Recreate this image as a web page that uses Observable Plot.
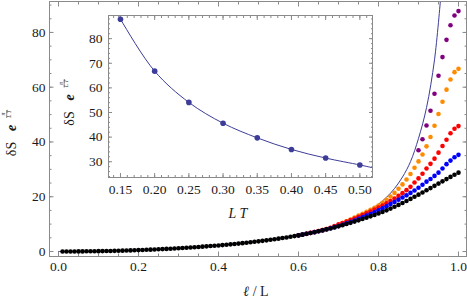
<!DOCTYPE html>
<html><head><meta charset="utf-8">
<script src="https://cdn.jsdelivr.net/npm/d3@7"></script>
<script src="https://cdn.jsdelivr.net/npm/@observablehq/plot@0.6"></script>
<style>
html,body{margin:0;padding:0;background:#fff;}
#wrap{position:relative;width:467px;height:300px;overflow:hidden;}
#wrap svg{position:absolute;left:0;top:0;}
#wrap svg text{font-family:'Liberation Serif','DejaVu Serif',serif;}
</style></head><body><div id="wrap"></div>
<script>
// ---- main chart data (ℓ/L grid and δS e^{π/LT} values)
const ellAll = [0.01,0.02,0.03,0.04,0.05,0.06,0.07,0.08,0.09,0.10,
0.11,0.12,0.13,0.14,0.15,0.16,0.17,0.18,0.19,0.20,
0.21,0.22,0.23,0.24,0.25,0.26,0.27,0.28,0.29,0.30,
0.31,0.32,0.33,0.34,0.35,0.36,0.37,0.38,0.39,0.40,
0.41,0.42,0.43,0.44,0.45,0.46,0.47,0.48,0.49,0.50,
0.51,0.52,0.53,0.54,0.55,0.56,0.57,0.58,0.59,0.60,
0.61,0.62,0.63,0.64,0.65,0.66,0.67,0.68,0.69,0.70,
0.71,0.72,0.73,0.74,0.75,0.76,0.77,0.78,0.79,0.80,
0.81,0.82,0.83,0.84,0.85,0.86,0.87,0.88,0.89,0.90,
0.91,0.92,0.93,0.94,0.95,0.96,0.97,0.98,0.99,1.00];
const blackVals = [0.00,0.01,0.01,0.02,0.03,0.04,0.06,0.08,0.10,0.12,
0.14,0.17,0.20,0.23,0.27,0.31,0.35,0.40,0.45,0.50,
0.55,0.61,0.67,0.73,0.80,0.87,0.94,1.02,1.10,1.18,
1.27,1.36,1.45,1.55,1.65,1.76,1.87,1.98,2.09,2.21,
2.34,2.47,2.60,2.74,2.89,3.04,3.20,3.36,3.53,3.70,
3.88,4.07,4.27,4.47,4.68,4.90,5.13,5.37,5.62,5.88,
6.15,6.44,6.74,7.05,7.37,7.71,8.06,8.42,8.80,9.19,
9.60,10.02,10.46,10.91,11.37,11.85,12.34,12.84,13.35,13.87,
14.43,15.03,15.66,16.32,17.01,17.72,18.45,19.20,19.97,20.75,
21.54,22.34,23.15,23.97,24.79,25.61,26.43,27.24,28.03,28.8];

const ellHigh = [0.60,0.61,0.62,0.63,0.64,0.65,0.66,0.67,0.68,0.69,
0.70,0.71,0.72,0.73,0.74,0.75,0.76,0.77,0.78,0.79,
0.80,0.81,0.82,0.83,0.84,0.85,0.86,0.87,0.88,0.89,
0.90,0.91,0.92,0.93,0.94,0.95,0.96,0.97,0.98,0.99,1.00];
const blueVals = [5.9,6.17,6.46,6.76,7.07,7.4,7.75,8.1,8.48,8.88,
9.3,9.75,10.25,10.75,11.3,11.9,12.5,13.1,13.7,14.35,
15.05,15.75,16.5,17.3,18.1,18.9,19.7,20.5,21.4,22.3,
23.3,24.4,25.5,26.5,27.6,28.8,30.3,31.9,33.2,34.4,35.3];
const redVals = [5.92,6.2,6.5,6.8,7.12,7.46,7.82,8.2,8.65,9.3,
9.95,10.4,10.9,11.45,12.05,12.65,13.3,13.95,14.6,15.3,
16.05,16.8,17.6,18.45,19.35,20.3,21.3,22.4,23.6,25.2,
26.7,28.4,30.3,32.0,33.9,36.1,38.5,40.8,43.2,44.8,45.8];
const orangeVals = [5.9,6.18,6.48,6.78,7.1,7.44,7.8,8.18,8.6,9.1,
9.7,10.35,11.0,11.7,12.4,13.1,13.8,14.5,15.2,16.0,
16.8,17.8,18.9,20.1,21.4,22.9,24.5,26.3,28.3,30.6,
32.9,35.4,38.4,41.8,45.9,50.2,54.7,59.1,62.8,65.5,66.7];
const ellPurple = [0.90,0.91,0.92,0.93,0.94,0.95,0.96,0.97,0.98,0.99,1.00];
const purpleVals = [37.0,41.0,46.0,51.4,57.6,64.2,71.0,77.3,82.6,86.2,87.8];

// analytic curve
const curveEll = [0,0.1,0.2,0.3,0.4,0.5,0.6,0.65,0.7,0.75,0.78,0.8,0.82,0.84,0.86,0.88,0.9,0.92,0.94,0.955];
const curveVals = [0,0.12,0.5,1.2,2.25,3.8,6.0,7.6,9.8,13.1,15.4,17.3,19.8,23.0,27.2,32.8,41.3,52.5,70,92];

// main ticks
const xMajor = [0,0.2,0.4,0.6,0.8,1.0];
const xMinor = [0,0.05,0.1,0.15,0.2,0.25,0.3,0.35,0.4,0.45,0.5,0.55,0.6,0.65,0.7,0.75,0.8,0.85,0.9,0.95,1.0];
const yMajor = [0,20,40,60,80];
const yMinor = [0,5,10,15,20,25,30,35,40,45,50,55,60,65,70,75,80,85,90];

// ---- inset data
const insetLT = [0.15,0.20,0.25,0.30,0.35,0.40,0.45,0.50];
const insetVals = [87.9,66.8,54.1,45.65,39.7,35.0,31.5,28.7];
const fitLT = [0.143,0.15,0.20,0.25,0.30,0.35,0.40,0.45,0.50,0.518];
const fitVals = [91.4,87.9,66.8,54.1,45.65,39.7,35.0,31.5,28.7,27.6];
const ixMajor = [0.15,0.20,0.25,0.30,0.35,0.40,0.45,0.50];
const ixMinor = [0.14,0.15,0.16,0.17,0.18,0.19,0.20,0.21,0.22,0.23,0.24,0.25,0.26,0.27,0.28,0.29,0.30,0.31,0.32,0.33,0.34,0.35,0.36,0.37,0.38,0.39,0.40,0.41,0.42,0.43,0.44,0.45,0.46,0.47,0.48,0.49,0.50,0.51];
const iyMajor = [30,40,50,60,70,80];
const iyMinor = [24,26,28,30,32,34,36,38,40,42,44,46,48,50,52,54,56,58,60,62,64,66,68,70,72,74,76,78,80,82,84,86,88];

const font = "'Liberation Serif','DejaVu Serif',serif";
const frameC = "#8a8a8a";
const textC = "#1a1a1a";
const lineC = "#3d3d99";

const toRows = (xs, ys) => xs.map((x, i) => ({x, y: ys[i]}));
const blank = () => "";

function frameTicks(xMaj, xMin, yMaj, yMin, big, small) {
  const out = [];
  for (const [t, s] of [[xMin, small], [xMaj, big]]) {
    out.push(Plot.axisX({anchor: "bottom", ticks: t, tickSize: s, dy: -s, tickFormat: blank, stroke: frameC, label: null}));
    out.push(Plot.axisX({anchor: "top", ticks: t, tickSize: s, dy: s, tickFormat: blank, stroke: frameC, label: null}));
  }
  for (const [t, s] of [[yMin, small], [yMaj, big]]) {
    out.push(Plot.axisY({anchor: "left", ticks: t, tickSize: s, dx: s, tickFormat: blank, stroke: frameC, label: null}));
    out.push(Plot.axisY({anchor: "right", ticks: t, tickSize: s, dx: -s, tickFormat: blank, stroke: frameC, label: null}));
  }
  return out;
}

const main = Plot.plot({
  width: 467, height: 300,
  marginLeft: 49, marginRight: 1, marginTop: 1, marginBottom: 44,
  style: {fontFamily: font, fontSize: "13.5px", background: "transparent", color: textC},
  x: {domain: [-0.0225, 1.02]},
  y: {domain: [-1.83, 91.3]},
  marks: [
    ...frameTicks(xMajor, xMinor, yMajor, yMinor, 4.5, 2.5),
    Plot.axisX({anchor: "bottom", ticks: xMajor, tickSize: 0, tickPadding: 5, tickFormat: d3.format(".1f"), label: null}),
    Plot.axisY({anchor: "left", ticks: yMajor, tickSize: 0, tickPadding: 4, tickFormat: d3.format("d"), label: null}),
    Plot.line(toRows(curveEll, curveVals), {x: "x", y: "y", curve: "catmull-rom", stroke: lineC, strokeWidth: 1, clip: true}),
    Plot.dot(toRows(ellPurple, purpleVals), {x: "x", y: "y", r: 2.3, fill: "#800080", clip: true}),
    Plot.dot(toRows(ellHigh, orangeVals), {x: "x", y: "y", r: 2.3, fill: "#ff8c00"}),
    Plot.dot(toRows(ellHigh, redVals), {x: "x", y: "y", r: 2.3, fill: "#ff0000"}),
    Plot.dot(toRows(ellHigh, blueVals), {x: "x", y: "y", r: 2.3, fill: "#0000ff"}),
    Plot.dot(toRows(ellAll, blackVals), {x: "x", y: "y", r: 2.3, fill: "#000000"}),
    Plot.frame({stroke: frameC})
  ]
});

const inset = Plot.plot({
  width: 467, height: 300,
  marginLeft: 108, marginRight: 95, marginTop: 15, marginBottom: 123,
  style: {fontFamily: font, fontSize: "13.5px", background: "transparent", color: textC},
  x: {domain: [0.1325, 0.5185]},
  y: {domain: [23.6, 89.4]},
  marks: [
    ...frameTicks(ixMajor, ixMinor, iyMajor, iyMinor, 4, 2),
    Plot.axisX({anchor: "bottom", ticks: ixMajor, tickSize: 0, tickPadding: 7, tickFormat: d3.format(".2f"), label: null}),
    Plot.axisY({anchor: "left", ticks: iyMajor, tickSize: 0, tickPadding: 6, tickFormat: d3.format("d"), label: null}),
    Plot.line(toRows(fitLT, fitVals), {x: "x", y: "y", curve: "catmull-rom", stroke: lineC, strokeWidth: 1, clip: true}),
    Plot.dot(toRows(insetLT, insetVals), {x: "x", y: "y", r: 2.8, fill: lineC}),
    Plot.frame({stroke: frameC})
  ]
});

const wrap = document.getElementById("wrap");
wrap.appendChild(main);
wrap.appendChild(inset);

// y-axis labels: δS e^{π/(LT)}
function yLabel(svg, tx, ty) {
  const g = d3.select(svg).append("g")
    .attr("transform", `translate(${tx},${ty}) rotate(-90)`)
    .attr("font-family", font).attr("fill", textC);
  g.append("text").attr("x", 0).attr("y", 0).attr("font-size", 14).text("δS");
  g.append("text").attr("x", 21).attr("y", 0).attr("font-size", 14)
    .attr("font-style", "italic").attr("font-weight", "bold").text("e");
  g.append("text").attr("x", 35).attr("y", -11).attr("font-size", 6)
    .attr("font-style", "italic").attr("text-anchor", "middle").text("π");
  g.append("line").attr("x1", 31).attr("x2", 39).attr("y1", -9.3).attr("y2", -9.3)
    .attr("stroke", textC).attr("stroke-width", 0.5);
  g.append("text").attr("x", 35).attr("y", -5.5).attr("font-size", 5.5)
    .attr("font-style", "italic").attr("text-anchor", "middle").text("L T");
}
yLabel(main, 16, 149);
yLabel(inset, 73.5, 118.5);

// x-axis labels
d3.select(main).append("text").attr("x", 256).attr("y", 296).attr("text-anchor", "middle")
  .attr("font-family", font).attr("font-size", 14).attr("fill", textC)
  .call(t => { t.append("tspan").attr("font-style", "italic").text("ℓ"); t.append("tspan").text(" / L"); });
d3.select(inset).append("text").attr("x", 238).attr("y", 218).attr("text-anchor", "middle")
  .attr("font-family", font).attr("font-size", 14).attr("font-style", "italic").attr("fill", textC)
  .text("L T");

// make sure every text uses the serif face
d3.selectAll("#wrap svg text").attr("font-family", font);
</script></body></html>
